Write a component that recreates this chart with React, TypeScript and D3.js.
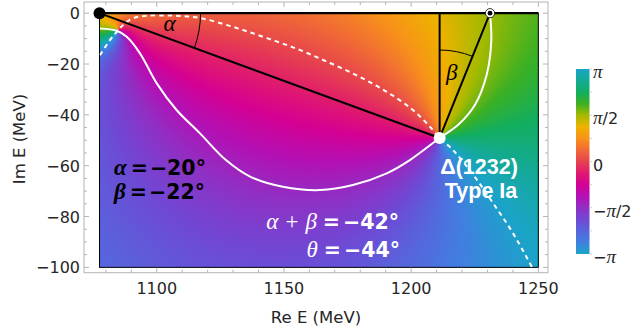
import React, { useMemo } from "react";
import * as d3 from "d3";

// frame range of the axes (MeV)
const reFrame = [1071.4, 1253.8];
const imFrame = [4.4, -102.1];
// region where the phase is painted
const reField = [1077.5, 1250];
const imField = [0, -100];

const reMajor = [1100, 1150, 1200, 1250];
const reMinor = [1080, 1090, 1110, 1120, 1130, 1140, 1160, 1170, 1180, 1190, 1210, 1220, 1230, 1240];
const imMajor = [0, -20, -40, -60, -80, -100];
const imMinor = [-5, -10, -15, -25, -30, -35, -45, -50, -55, -65, -70, -75, -85, -90, -95];

// special points
const threshold = { re: 1077.5, im: 0 };
const pole = { re: 1211.2, im: -49.1 };
const bwPoint = { re: 1231, im: 0 };
const zero = { re: 1084.8, im: -6.7 };

// phase of the amplitude: offset + arg(E - zero) - arg(E - pole), small bend near threshold
const phaseOffset = 2.75;
const cornerBend = { re: 1079, im: -4, amount: 1.3, width: 10 };

// Re f = 0 line (solid)
const solidRe = [1077.7, 1084.3, 1088.2, 1093.4, 1100.0, 1107.8, 1117.0, 1127.2, 1136.7, 1149.6, 1164.2, 1177.1, 1190.4, 1199.5, 1211.2, 1218.5, 1225.1, 1229.7, 1231.5, 1231.0];
const solidIm = [-6.0, -6.9, -9.3, -15.8, -27.6, -38.1, -47.3, -57.8, -64.3, -68.3, -69.6, -67.6, -63.0, -57.8, -49.1, -43.9, -36.0, -24.2, -11.0, 0];

// Im f = 0 line (dashed)
const dashRe = [1077.7, 1081.6, 1084.9, 1087.5, 1090.7, 1096.0, 1103.2, 1109.1, 1117.0, 1130.0, 1143.3, 1156.3, 1168.1, 1179.9, 1190.5, 1200.7, 1208.6, 1211.2, 1216.4, 1223.9, 1232.2, 1240.0, 1247.5];
const dashIm = [-16.5, -10.6, -6.6, -4.0, -2.0, -1.0, -0.9, -1.1, -1.9, -5.4, -9.8, -14.5, -19.6, -25.1, -31.0, -38.1, -46.0, -49.1, -53.8, -62.9, -74.7, -86.5, -99.9];

// cyclic phase colours
const P = Math.PI;
const phaseStops = [-P, -7 * P / 8, -3 * P / 4, -5 * P / 8, -P / 2, -3 * P / 8, -P / 4, -P / 8, 0, P / 8, P / 4, 3 * P / 8, P / 2, 5 * P / 8, 3 * P / 4, 7 * P / 8, P];
const phaseColors = ["#1aa4c8", "#4080e0", "#5864dc", "#7048d4", "#9030c4", "#b410b4", "#d40094", "#e01a6e", "#e6424e", "#f06a36", "#f8921a", "#eeb200", "#a4ba00", "#3cb024", "#12ae60", "#14aa94", "#1aa4c8"];

const barTicks = [P, P / 2, 0, -P / 2, -P];
const barLabels = [["", "π", ""], ["", "π", "/2"], ["0", "", ""], ["−", "π", "/2"], ["−", "π", ""]];

const sans = "'DejaVu Sans', Verdana, sans-serif";
const sans2 = "'Liberation Sans', Arial, sans-serif";
const serif = "'Liberation Serif', 'Times New Roman', serif";

export default function App() {
  const W = 638, H = 333;
  const x = d3.scaleLinear().domain(reFrame).range([84, 548]);
  const y = d3.scaleLinear().domain(imFrame).range([2, 272.7]);
  const fx0 = x(reField[0]), fx1 = x(reField[1]);
  const fy0 = y(imField[0]), fy1 = y(imField[1]);
  const fw = Math.ceil(fx1 - fx0), fh = Math.ceil(fy1 - fy0);

  const color = d3.scaleLinear<string>().domain(phaseStops).range(phaseColors).interpolate(d3.interpolateRgb);

  const fieldUrl = useMemo(() => {
    const cv = document.createElement("canvas");
    cv.width = fw;
    cv.height = fh;
    const ctx = cv.getContext("2d");
    if (!ctx) return "";
    const img = ctx.createImageData(fw, fh);
    const N = 1024;
    const lut = d3.range(N).map(i => d3.rgb(color(-P + ((i + 0.5) * 2 * P) / N)));
    for (let j = 0; j < fh; j++) {
      const im = y.invert(fy0 + j + 0.5);
      for (let i = 0; i < fw; i++) {
        const re = x.invert(fx0 + i + 0.5);
        let ph = phaseOffset + Math.atan2(im - zero.im, re - zero.re) - Math.atan2(im - pole.im, re - pole.re);
        const d2 = (re - cornerBend.re) ** 2 + (im - cornerBend.im) ** 2;
        ph -= cornerBend.amount * Math.exp(-d2 / cornerBend.width ** 2);
        ph = ((((ph + P) % (2 * P)) + 2 * P) % (2 * P)) - P;
        const k = Math.min(N - 1, Math.floor(((ph + P) / (2 * P)) * N));
        const c = lut[k];
        const o = (j * fw + i) * 4;
        img.data[o] = c.r;
        img.data[o + 1] = c.g;
        img.data[o + 2] = c.b;
        img.data[o + 3] = 255;
      }
    }
    ctx.putImageData(img, 0, 0);
    return cv.toDataURL();
  }, []);

  const line = d3
    .line<number[]>()
    .x(d => x(d[0]))
    .y(d => y(d[1]))
    .curve(d3.curveCatmullRom.alpha(0.5));
  const solidPath = line(solidRe.map((r, i) => [r, solidIm[i]])) || "";
  const dashPath = line(dashRe.map((r, i) => [r, dashIm[i]])) || "";

  const tx = x(threshold.re), ty = y(threshold.im);
  const px = x(pole.re), py = y(pole.im);
  const bx = x(bwPoint.re), by = y(bwPoint.im);

  // angle arcs
  const aAng = Math.atan2(py - ty, px - tx);
  const alphaArc = d3.path();
  alphaArc.arc(tx, ty, 101, 0, aAng);
  const bAng = Math.atan2(by - py, bx - px);
  const betaArc = d3.path();
  betaArc.arc(px, py, 88, -P / 2, bAng);
  const aMid = aAng / 2, bMid = (-P / 2 + bAng) / 2;

  // colour bar
  const barX = 576, barY = 69, barW = 13.5, barH = 185;
  const barPos = (t: number) => barY + ((P - t) / (2 * P)) * barH;
  const gradStops = phaseStops.map((s, i) => ({ off: (P - s) / (2 * P), col: phaseColors[i] })).reverse();

  const grey = "#b4b4b4";
  const ink = "#262626";

  return (
    <div style={{ position: "absolute", left: 0, top: 0 }}>
      <svg width={W} height={H} style={{ display: "block", background: "#fff" }}>
        <defs>
          <clipPath id="fieldClip">
            <rect x={fx0} y={fy0} width={fx1 - fx0} height={fy1 - fy0} />
          </clipPath>
          <linearGradient id="barGrad" x1="0" y1="0" x2="0" y2="1">
            {gradStops.map((s, i) => (
              <stop key={i} offset={s.off} stopColor={s.col} />
            ))}
          </linearGradient>
        </defs>

        {/* phase field */}
        <image href={fieldUrl} x={fx0} y={fy0} width={fx1 - fx0} height={fy1 - fy0} preserveAspectRatio="none" />
        <rect x={fx0} y={fy0} width={fx1 - fx0} height={fy1 - fy0} fill="none" stroke="#000" strokeWidth={1} />

        {/* white lines */}
        <g clipPath="url(#fieldClip)" fill="none" stroke="#fff" strokeWidth={2}>
          <path d={solidPath} />
          <path d={dashPath} strokeDasharray="4.5 4" />
        </g>

        {/* black geometry */}
        <g stroke="#000" fill="none">
          <line x1={fx0} y1={ty} x2={fx1} y2={ty} strokeWidth={2.2} />
          <line x1={tx} y1={ty} x2={px} y2={py} strokeWidth={2} />
          <line x1={px} y1={ty} x2={px} y2={py} strokeWidth={2} />
          <line x1={px} y1={py} x2={bx} y2={by} strokeWidth={2} />
          <path d={alphaArc.toString()} strokeWidth={1} />
          <path d={betaArc.toString()} strokeWidth={1} />
        </g>
        <text x={tx + 71 * Math.cos(aMid)} y={ty + 71 * Math.sin(aMid) + 5} textAnchor="middle" fontFamily={serif} fontStyle="italic" fontSize={23}>
          α
        </text>
        <text x={px + 64 * Math.cos(bMid)} y={py + 64 * Math.sin(bMid) + 5} textAnchor="middle" fontFamily={serif} fontStyle="italic" fontSize={23}>
          β
        </text>

        {/* points */}
        <circle cx={tx} cy={ty} r={6} fill="#000" />
        <circle cx={px} cy={py} r={6} fill="#fff" />
        <circle cx={bx} cy={by} r={4.6} fill="#fff" stroke="#000" strokeWidth={0.8} />
        <circle cx={bx} cy={by} r={2.4} fill="#000" />

        {/* annotations */}
        <g fontFamily={sans} fontWeight="bold" fontSize={20.5}>
          <text x={114} y={174.5} fill="#000">
            <tspan fontFamily={serif} fontStyle="italic" fontSize={23}>α</tspan>
            <tspan dx={4}>=</tspan>
            <tspan dx={2}>−20°</tspan>
          </text>
          <text x={114} y={198.5} fill="#000">
            <tspan fontFamily={serif} fontStyle="italic" fontSize={23}>β</tspan>
            <tspan dx={4}>=</tspan>
            <tspan dx={2}>−22°</tspan>
          </text>
          <text x={399} y={228.5} textAnchor="end" fill="#fff">
            <tspan fontFamily={serif} fontStyle="italic" fontWeight="normal" fontSize={23}>α</tspan>
            <tspan fontFamily={serif} fontWeight="normal" fontSize={23} dx={7}>+</tspan>
            <tspan fontFamily={serif} fontStyle="italic" fontWeight="normal" fontSize={23} dx={7}>β</tspan>
            <tspan dx={6}>=</tspan>
            <tspan dx={3}>−42°</tspan>
          </text>
          <text x={400} y={257} textAnchor="end" fill="#fff">
            <tspan fontFamily={serif} fontStyle="italic" fontWeight="normal" fontSize={23}>θ</tspan>
            <tspan dx={6}>=</tspan>
            <tspan dx={3}>−44°</tspan>
          </text>
        </g>
        <text x={479} y={174} textAnchor="middle" fontFamily={sans2} fontWeight="bold" fontSize={21.5} fill="#fff">
          Δ(1232)
        </text>
        <text x={481} y={198} textAnchor="middle" fontFamily={sans2} fontWeight="bold" fontSize={21.5} fill="#fff">
          Type Ia
        </text>

        {/* axes frame */}
        <rect x={84} y={2} width={464} height={270.7} fill="none" stroke={grey} strokeWidth={1} />
        <g stroke={grey} strokeWidth={1}>
          {reMajor.map(t => (
            <g key={"xM" + t}>
              <line x1={x(t)} x2={x(t)} y1={272.7} y2={267.7} />
              <line x1={x(t)} x2={x(t)} y1={2} y2={7} />
            </g>
          ))}
          {reMinor.map(t => (
            <g key={"xm" + t}>
              <line x1={x(t)} x2={x(t)} y1={272.7} y2={269.7} />
              <line x1={x(t)} x2={x(t)} y1={2} y2={5} />
            </g>
          ))}
          {imMajor.map(t => (
            <g key={"yM" + t}>
              <line x1={84} x2={89} y1={y(t)} y2={y(t)} />
              <line x1={548} x2={543} y1={y(t)} y2={y(t)} />
            </g>
          ))}
          {imMinor.map(t => (
            <g key={"ym" + t}>
              <line x1={84} x2={87} y1={y(t)} y2={y(t)} />
              <line x1={548} x2={545} y1={y(t)} y2={y(t)} />
            </g>
          ))}
        </g>
        <g fontFamily={sans} fontSize={16} fill={ink}>
          {reMajor.map(t => (
            <text key={"xl" + t} x={x(t)} y={294} textAnchor="middle">
              {t}
            </text>
          ))}
          {imMajor.map(t => (
            <text key={"yl" + t} x={80} y={y(t) + 6} textAnchor="end">
              {t === 0 ? "0" : "−" + Math.abs(t)}
            </text>
          ))}
          <text x={316} y={323} textAnchor="middle" fontSize={16.5}>
            Re E (MeV)
          </text>
          <text transform="translate(25,139) rotate(-90)" textAnchor="middle" fontSize={16.5}>
            Im E (MeV)
          </text>
        </g>

        {/* colour bar */}
        <rect x={barX} y={barY} width={barW} height={barH} fill="url(#barGrad)" />
        <g stroke="#d0d0d0" strokeWidth={1}>
          {d3.range(-4, 5).map(k => (
            <line key={"bt" + k} x1={barX + barW} x2={barX + barW + 2.5} y1={barPos((k * P) / 4)} y2={barPos((k * P) / 4)} />
          ))}
        </g>
        <g fontFamily={sans} fontSize={16} fill={ink}>
          {barTicks.map((t, i) => (
            <text key={"bl" + i} x={593} y={barPos(t) + 9}>
              {barLabels[i][0]}
              <tspan fontFamily={serif} fontStyle="italic" fontSize={19}>{barLabels[i][1]}</tspan>
              {barLabels[i][2]}
            </text>
          ))}
        </g>
      </svg>
    </div>
  );
}
